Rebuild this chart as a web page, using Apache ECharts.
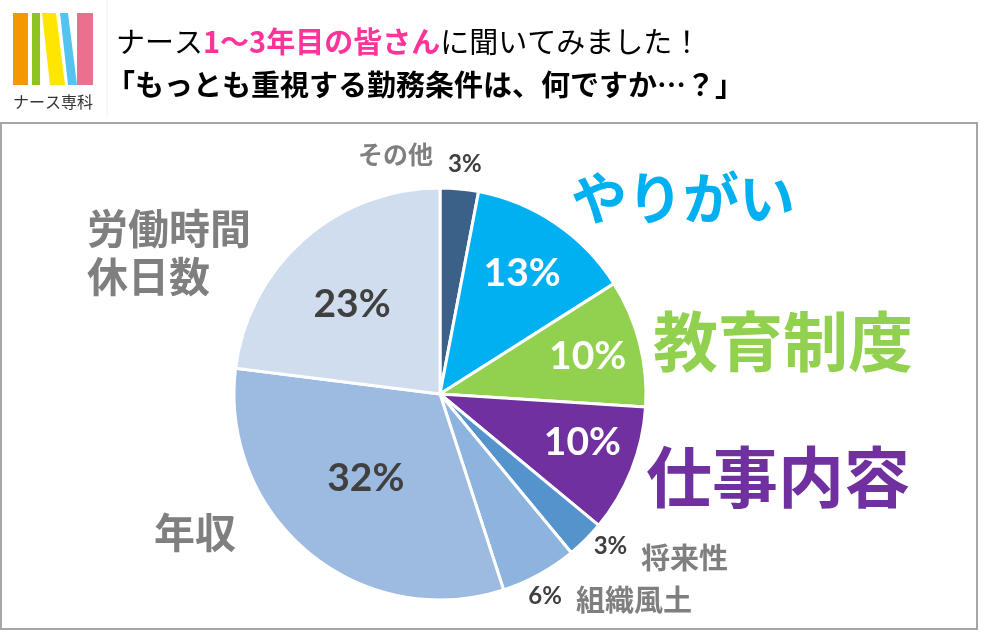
<!DOCTYPE html>
<html>
<head>
<meta charset="utf-8">
<script src="https://cdn.jsdelivr.net/npm/echarts@6/dist/echarts.min.js"></script>
<style>
html,body{margin:0;padding:0;background:#fff;}
#chart{width:983px;height:635px;}
</style>
</head>
<body>
<div id="chart"></div>
<script>
// ---- data ----
const categories = ['その他', 'やりがい', '教育制度', '仕事内容', '将来性', '組織風土', '年収', '労働時間休日数'];
const values = [3, 13, 10, 10, 3, 6, 32, 23];
const sliceColors = ['#3B6189', '#00B0F0', '#92D050', '#7030A0', '#5593CC', '#8DB3DF', '#9DBBE1', '#CFDDEF'];

// ---- label layout config (not data) ----
const labelRadius = [1.12, 0.71, 0.74, 0.73, 1.11, 1.105, 0.545, 0.61];
const labelAngleShift = [0.8, 0, 0, -2.9, -3.2, 1.3, 1.8, -3];
const labelColor = ['#404040', '#FFFFFF', '#FFFFFF', '#FFFFFF', '#404040', '#404040', '#404040', '#404040'];
const labelSize = [24, 39, 39, 39, 24, 24, 39, 39];

const CX = 440, CY = 394, R = 206;
const total = values.reduce((a, b) => a + b, 0);
const cum = [];
values.reduce((acc, v, i) => { cum[i] = acc; return acc + v; }, 0);

const chart = echarts.init(document.getElementById('chart'), null, {renderer: 'canvas'});

const cjk = '"Noto Sans CJK JP", "Noto Sans", sans-serif';
const num = 'Lato, "Open Sans", sans-serif';

function nameText(text, x, y, size, color) {
  return {
    type: 'text', x: x, y: y, z: 10,
    style: {text: text, fontFamily: cjk, fontWeight: 'bold', fontSize: size, fill: color,
            textAlign: 'left', textVerticalAlign: 'middle', lineHeight: size * 1.17}
  };
}

const option = {
  backgroundColor: '#fff',
  animation: false,
  title: [{
    left: 111, top: 15,
    text: '{a|ナース}{p|1～3年目の皆さん}{a|に聞いてみました！}',
    textStyle: {
      rich: {
        a: {fontFamily: cjk, fontSize: 29, color: '#000', fontWeight: 'normal', lineHeight: 43},
        p: {fontFamily: cjk, fontSize: 29, color: '#FF3399', fontWeight: 'bold', lineHeight: 43}
      }
    }
  }, {
    left: 101, top: 58,
    text: '「もっとも重視する勤務条件は、何ですか…？」',
    textStyle: {fontFamily: cjk, fontSize: 29, color: '#000', fontWeight: 'bold', lineHeight: 43}
  }],
  graphic: [
    // frame
    {type: 'rect', shape: {x: 1, y: 123, width: 976, height: 506}, style: {fill: 'none', stroke: '#A6A6A6', lineWidth: 2}, z: 0},
    // logo
    {type: 'rect', shape: {x: 13, y: 13, width: 15, height: 72}, style: {fill: '#F39800'}},
    {type: 'rect', shape: {x: 32, y: 13, width: 8, height: 72}, style: {fill: '#8FC31F'}},
    {type: 'polygon', shape: {points: [[42, 13], [56, 13], [65, 85], [50, 85]]}, style: {fill: '#FFE600'}},
    {type: 'polygon', shape: {points: [[60, 13], [68, 13], [77, 85], [68, 85]]}, style: {fill: '#54C3F1'}},
    {type: 'rect', shape: {x: 77, y: 13, width: 16, height: 72}, style: {fill: '#E9708E'}},
    {type: 'text', x: 53, y: 102, style: {text: 'ナース専科', fontFamily: cjk, fontSize: 16, fill: '#333', textAlign: 'center', textVerticalAlign: 'middle'}},
    {type: 'line', shape: {x1: 107, y1: 0, x2: 107, y2: 118}, style: {stroke: '#F2F2F2', lineWidth: 1}},
    // category names
    nameText('その他', 358, 154, 25, '#7F7F7F'),
    nameText('やりがい', 571, 198, 56, '#00B0F0'),
    nameText('教育制度', 653, 341, 65, '#92D050'),
    nameText('仕事内容', 646, 477, 66, '#7030A0'),
    nameText('将来性', 641, 558, 29, '#7F7F7F'),
    nameText('組織風土', 576, 600, 29, '#7F7F7F'),
    nameText('年収', 154, 532, 41, '#7F7F7F'),
    nameText('労働時間\n休日数', 87, 252, 41, '#7F7F7F')
  ],
  series: [{
    type: 'pie',
    center: [CX, CY],
    radius: [0, R],
    startAngle: 90,
    clockwise: true,
    silent: true,
    label: {
      show: true,
      position: 'inside',
      formatter: p => p.value + '%',
      fontFamily: num,
      fontWeight: 'bold'
    },
    labelLine: {show: false},
    labelLayout: function (params) {
      const i = params.dataIndex;
      const mid = (cum[i] + values[i] / 2) / total * 360 + labelAngleShift[i];
      const rad = mid * Math.PI / 180;
      const r = labelRadius[i] * R;
      return {x: CX + r * Math.sin(rad), y: CY - r * Math.cos(rad), align: 'center', verticalAlign: 'middle'};
    },
    itemStyle: {borderColor: '#fff', borderWidth: 3},
    data: categories.map((c, i) => ({
      name: c, value: values[i],
      itemStyle: {color: sliceColors[i]},
      label: {color: labelColor[i], fontSize: labelSize[i]}
    }))
  }]
};
chart.setOption(option);
</script>
</body>
</html>
